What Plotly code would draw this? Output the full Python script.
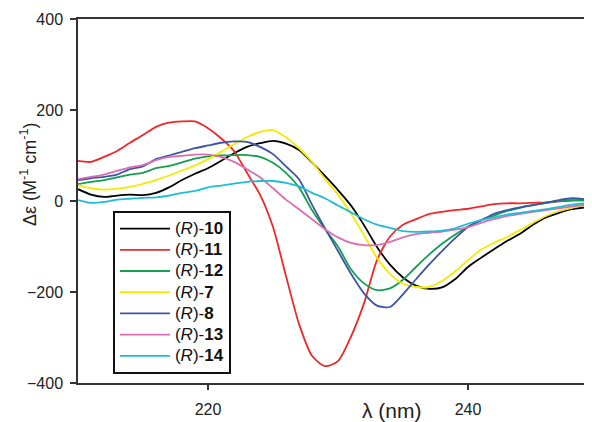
import plotly.graph_objects as go

wavelength = [210, 211, 212, 213, 214, 215, 216, 217, 218, 219,
              220, 221, 222, 223, 224, 225, 226, 227, 228, 229,
              230, 231, 232, 233, 234, 235, 236, 237, 238, 239,
              240, 241, 242, 243, 244, 245, 246, 247, 248, 249, 249.5]

r10 = [26, 14, 9, 12, 14, 13, 18, 30, 46, 60,
       72, 88, 105, 119, 127, 132, 126, 112, 85, 55,
       24, -10, -53, -101, -140, -168, -186, -193, -190, -172,
       -145, -125, -106, -88, -72, -52, -36, -26, -18, -14, -12]
r11 = [88, 86, 97, 110, 128, 145, 163, 172, 175, 175,
       160, 138, 110, 62, 14, -57, -165, -270, -340, -363,
       -352, -298, -225, -130, -78, -52, -40, -29, -24, -20,
       -17, -12, -7, -5, -5, -4, -3, -1, 1, 2, 2]
r12 = [37, 42, 46, 52, 58, 62, 72, 77, 85, 93,
       98, 100, 101, 101, 97, 84, 62, 30, -20, -62,
       -100, -150, -181, -196, -192, -173, -145, -118, -94, -74,
       -56, -42, -32, -22, -15, -9, -4, 0, 2, 1, 0]
r7 = [35, 28, 25, 27, 31, 38, 46, 56, 67, 78,
      92, 108, 125, 140, 152, 156, 140, 116, 86, 48,
      14, -28, -75, -125, -160, -182, -189, -189, -176, -155,
      -130, -107, -92, -79, -64, -48, -33, -22, -15, -10, -9]
r8 = [46, 50, 53, 58, 70, 76, 92, 100, 108, 116,
      122, 128, 131, 130, 119, 103, 76, 48, -8, -60,
      -110, -160, -203, -230, -233, -205, -172, -140, -110, -82,
      -57, -43, -28, -20, -14, -9, -4, 2, 6, 4, 2]
r13 = [48, 53, 58, 66, 74, 79, 90, 97, 99, 102,
       102, 97, 86, 70, 52, 28, 3, -18, -40, -62,
       -80, -92, -97, -97, -90, -80, -73, -70, -67, -63,
       -58, -48, -40, -33, -28, -24, -20, -16, -12, -8, -7]
r14 = [2, -4, -2, 3, 5, 7, 8, 12, 18, 22,
       30, 34, 38, 42, 44, 44, 40, 32, 18, 6,
       -10, -25, -40, -52, -59, -66, -68, -67, -65, -60,
       -50, -42, -36, -30, -26, -22, -18, -13, -8, -5, -4]

compound_ids = ["10", "11", "12", "7", "8", "13", "14"]
series_values = [r10, r11, r12, r7, r8, r13, r14]
colors = ["#000000", "#f0282a", "#12a04e", "#f5ea00", "#3c55a5", "#dc6eb2", "#1ebdd6"]

x_ticks = [220, 240]
y_ticks = [-400, -200, 0, 200, 400]

fig = go.Figure()
for cid, vals, col in zip(compound_ids, series_values, colors):
    label = '<span style="font-size:17px">(<i>R</i>)-<b>' + cid + '</b></span>'
    fig.add_trace(go.Scatter(x=wavelength, y=vals, mode="lines", name=label,
                             line=dict(color=col, width=1.8, shape="spline", smoothing=0.7)))

axis_font = dict(family="Liberation Sans, Arial, sans-serif", size=16, color="#222")
fig.update_layout(
    width=592, height=422,
    margin=dict(l=70, r=8, t=11, b=47),
    plot_bgcolor="white", paper_bgcolor="white",
    font=dict(family="Liberation Sans, Arial, sans-serif", color="#111"),
    showlegend=True,
    legend=dict(x=0.068, y=(383 - 211) / 364, xanchor="left", yanchor="top",
                bordercolor="#111", borderwidth=2, bgcolor="white",
                font=dict(family="Liberation Sans, Arial, sans-serif", size=14, color="#111"),
                itemwidth=50, tracegroupgap=0),
    xaxis=dict(range=[210, 249.54], tickvals=x_ticks, ticks="outside", ticklen=5,
               tickcolor="#333", tickwidth=1.5, showline=True, linecolor="#333",
               linewidth=1.5, mirror=True, showgrid=False, zeroline=False,
               tickfont=axis_font, ticklabelstandoff=6, automargin=False),
    yaxis=dict(range=[-400, 400], tickvals=y_ticks, ticks="outside", ticklen=6,
               tickcolor="#333", tickwidth=1.5, showline=True, linecolor="#333",
               linewidth=1.5, mirror=False, showgrid=False, zeroline=False,
               tickfont=axis_font, ticklabelstandoff=4, automargin=False),
)

fig.add_annotation(text="Δε (M<sup>-1</sup> cm<sup>-1</sup>)", textangle=-90,
                   xref="paper", yref="paper", x=(28 - 78) / 514, y=(383 - 175) / 364,
                   xanchor="center", yanchor="middle", showarrow=False,
                   font=dict(family="Liberation Sans, Arial, sans-serif", size=18, color="#222"))
fig.add_annotation(text="λ (nm)", xref="paper", yref="paper",
                   x=(392 - 78) / 514, y=(383 - 410) / 364,
                   xanchor="center", yanchor="middle", showarrow=False,
                   font=dict(family="Liberation Sans, Arial, sans-serif", size=21, color="#222"))

fig.write_html("out.html")
